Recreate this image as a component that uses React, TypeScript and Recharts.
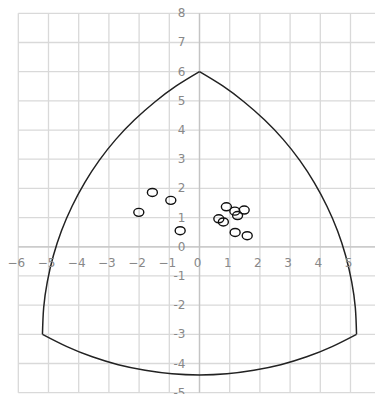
import {
  ComposedChart,
  CartesianGrid,
  XAxis,
  YAxis,
  Line,
  Scatter,
  ReferenceLine,
  ReferenceDot,
} from 'recharts';

// axis ticks
const xTicks = [-6, -5, -4, -3, -2, -1, 0, 1, 2, 3, 4, 5, 6];
const yTicks = [-5, -4, -3, -2, -1, 0, 1, 2, 3, 4, 5, 6, 7, 8];

// boundary arcs
const leftArc = [
  { x: 0, y: 6 },
  { x: -0.77, y: 5.51 },
  { x: -1.48, y: 4.96 },
  { x: -2.15, y: 4.35 },
  { x: -2.77, y: 3.68 },
  { x: -3.32, y: 2.96 },
  { x: -3.8, y: 2.2 },
  { x: -4.22, y: 1.39 },
  { x: -4.57, y: 0.55 },
  { x: -4.84, y: -0.31 },
  { x: -5.04, y: -1.2 },
  { x: -5.16, y: -2.09 },
  { x: -5.2, y: -3 },
];

const rightArc = [
  { x: 0, y: 6 },
  { x: 0.77, y: 5.51 },
  { x: 1.48, y: 4.96 },
  { x: 2.15, y: 4.35 },
  { x: 2.77, y: 3.68 },
  { x: 3.32, y: 2.96 },
  { x: 3.8, y: 2.2 },
  { x: 4.22, y: 1.39 },
  { x: 4.57, y: 0.55 },
  { x: 4.84, y: -0.31 },
  { x: 5.04, y: -1.2 },
  { x: 5.16, y: -2.09 },
  { x: 5.2, y: -3 },
];

const bottomArc = [
  { x: -5.2, y: -3 },
  { x: -4.39, y: -3.42 },
  { x: -3.55, y: -3.77 },
  { x: -2.69, y: -4.04 },
  { x: -1.8, y: -4.23 },
  { x: -0.91, y: -4.35 },
  { x: 0, y: -4.39 },
  { x: 0.91, y: -4.35 },
  { x: 1.8, y: -4.23 },
  { x: 2.69, y: -4.04 },
  { x: 3.55, y: -3.77 },
  { x: 4.39, y: -3.42 },
  { x: 5.2, y: -3 },
];

// sample points
const points = [
  { x: -1.56, y: 1.86 },
  { x: -0.95, y: 1.59 },
  { x: -2.01, y: 1.18 },
  { x: -0.64, y: 0.55 },
  { x: 0.89, y: 1.37 },
  { x: 1.17, y: 1.22 },
  { x: 1.48, y: 1.26 },
  { x: 1.26, y: 1.07 },
  { x: 0.64, y: 0.96 },
  { x: 0.79, y: 0.85 },
  { x: 1.18, y: 0.49 },
  { x: 1.58, y: 0.38 },
];

const W = 400;
const H = 420;
const margin = { top: 13.3, left: 18.3, right: 19.3, bottom: 27.3 };

const labelStyle = { fill: '#888', fontSize: 12, fontFamily: 'DejaVu Sans' };

// x labels sit just under the y=0 line
const xLabel = (v: number) => (props: any) => (
  <text x={props.cx - 2} y={props.cy + 20} textAnchor="middle" {...labelStyle}>
    {v < 0 ? `\u2212${-v}` : `${v}`}
  </text>
);

// y labels sit left of the x=0 line
const yLabel = (v: number) => (props: any) => (
  <text x={props.cx - 14} y={props.cy + 4} textAnchor="end" {...labelStyle}>
    {v}
  </text>
);

const Ring = (props: any) => (
  <ellipse
    cx={props.cx}
    cy={props.cy}
    rx={5}
    ry={4}
    fill="none"
    stroke="#111"
    strokeWidth={1.4}
  />
);

export default function App() {
  return (
    <div
      style={{
        position: 'fixed',
        left: 0,
        top: 0,
        width: 375,
        height: 394,
        overflow: 'hidden',
        background: '#fff',
      }}
    >
      <ComposedChart width={W} height={H} margin={margin}>
        <CartesianGrid stroke="#d9d9d9" strokeWidth={1.3} />
        <XAxis
          type="number"
          dataKey="x"
          domain={[-6, 6]}
          ticks={xTicks}
          hide
          interval={0}
          allowDataOverflow
        />
        <YAxis
          type="number"
          dataKey="y"
          domain={[-5, 8]}
          ticks={yTicks}
          hide
          interval={0}
          allowDataOverflow
        />
        <ReferenceLine x={0} stroke="#c4c4c4" strokeWidth={1.3} />
        <ReferenceLine y={0} stroke="#c4c4c4" strokeWidth={1.3} />
        {xTicks.map((v) => (
          <ReferenceDot key={`x${v}`} x={v} y={0} shape={xLabel(v)} ifOverflow="visible" />
        ))}
        {yTicks.map((v) => (
          <ReferenceDot key={`y${v}`} x={0} y={v} shape={yLabel(v)} ifOverflow="visible" />
        ))}
        {[leftArc, rightArc, bottomArc].map((arc, i) => (
          <Line
            key={i}
            data={arc}
            dataKey="y"
            type="natural"
            stroke="#222"
            strokeWidth={1.5}
            dot={false}
            activeDot={false}
            isAnimationActive={false}
          />
        ))}
        <Scatter
          data={points}
          dataKey="y"
          shape={<Ring />}
          isAnimationActive={false}
        />
      </ComposedChart>
    </div>
  );
}
